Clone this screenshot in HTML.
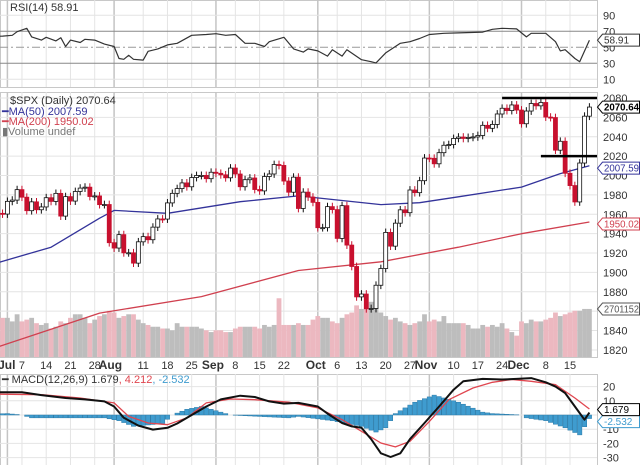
<!DOCTYPE html>
<html><head><meta charset="utf-8"><style>
html,body{margin:0;padding:0;background:#fff;}
svg{display:block;font-family:"Liberation Sans",sans-serif;}
</style></head><body>
<svg id="c" width="640" height="465" viewBox="0 0 640 465">
<defs><clipPath id="plot"><rect x="0" y="0" width="597" height="465"/></clipPath></defs>
<g id="grid"></g>
<g id="vol" clip-path="url(#plot)"></g>
<g id="lines" clip-path="url(#plot)"></g>
<g id="candles" clip-path="url(#plot)"></g>
<g id="labels"></g>
</svg>
<script>
// ---- data ----
const closes = [1949.98,1959.53,1957.22,1960.96,1960.23,
1973.32,1974.62,1985.44,1977.65,1963.71,1972.83,1964.68,1967.57,1977.10,1973.28,1981.57,1958.12,1978.22,1973.63,1983.53,1987.01,1987.98,1978.34,1978.91,1969.95,1970.07,1930.67,
1925.15,1938.99,1920.21,1920.24,1909.57,1931.59,1936.92,1933.75,1946.72,1955.18,1955.06,1971.74,1981.60,1986.51,1992.37,1988.40,1997.92,2000.02,2000.12,1996.74,2003.37,
2002.28,2000.72,1997.65,2007.71,2001.54,1988.44,1995.69,1997.45,1985.54,1984.13,1998.98,2001.57,2011.36,2010.40,1994.29,1982.77,1998.30,1965.99,1982.85,1977.80,1972.29,
1946.16,1946.17,1967.90,1964.82,1935.10,1968.89,1928.21,1906.13,1874.74,1877.70,1862.49,1862.76,1886.76,1904.01,1941.28,1927.11,1950.82,1964.58,1961.63,1985.05,1982.30,1994.65,2018.05,
2017.81,2012.10,2023.57,2031.21,2031.92,2038.26,2039.68,2038.25,2039.33,2039.82,2041.32,2051.80,2048.72,2052.75,2063.50,2069.41,2067.03,2072.83,2067.56,
2053.44,2066.55,2074.33,2071.92,2075.37,2060.31,2059.82,2026.14,2035.33,2002.33,1989.63,1972.74,2012.89,2061.23,2070.65];
const volumes = [2.2,2.1,2.0,2.3,2.2,
2.2,2.0,2.4,2.0,2.1,2.2,1.9,1.8,1.9,1.6,1.7,2.0,1.9,2.2,2.4,2.4,2.2,1.9,2.1,2.3,2.4,2.6,
2.5,2.2,2.3,2.4,2.4,2.1,1.9,1.8,1.7,1.7,1.6,1.6,1.5,1.9,1.7,1.7,1.7,1.7,1.6,1.5,1.4,
1.5,1.5,1.4,1.4,1.6,1.7,1.7,1.7,1.7,1.6,1.8,1.7,1.8,3.3,1.8,1.8,1.8,1.9,1.8,1.8,2.1,
2.3,2.2,2.2,2.0,1.9,2.2,2.4,2.5,2.9,2.7,3.0,3.1,2.8,2.5,2.3,2.1,2.2,2.0,1.9,1.8,1.9,2.0,2.4,
2.0,2.1,2.0,2.3,1.9,1.9,1.9,1.9,1.8,1.6,1.6,1.8,1.7,1.8,1.7,1.9,1.6,1.4,1.2,
2.0,1.9,2.1,2.0,2.0,2.1,2.2,2.5,2.3,2.4,2.5,2.6,2.6,2.7,2.7];
const ma50Idx = [3,14,24,27,38,53,65,82,90,98,111,119,125];
const ma50Val = [1910,1926,1956,1964,1961,1973,1979,1970,1972,1978,1988,2002,2010];
const ma200Idx = [3,24,45,65,82,98,111,125];
const ma200Val = [1823,1858,1875,1902,1911,1926,1940,1952];
const rsiIdx = [0,4,6,7,9,10,12,13,15,16,17,18,20,21,23,25,27,28,29,30,31,33,34,36,38,40,43,46,48,50,52,54,56,58,59,62,64,66,67,69,71,72,74,75,78,80,81,83,85,86,88,90,92,95,98,103,105,107,110,112,113,116,118,119,120,122,123,125];
const rsiVal = [63,64,65,69.5,73.7,63,59,62.5,58,62,51,59,56,60,59,54,51,36,35,40,35,34,45,48,53,55,65,66,67,65,66,55,55,51,57,62.5,48,44,48,45.5,39,47,39,47,34.5,32,30.5,43,51,55,57,61,66,67.5,68,69,72.5,73.7,73,63,67.5,67.5,57,45.5,47,36,32,58.9];
const macdIdx = [0,8,12,17,21,25,27,29,32,35,38,40,43,46,49,53,56,59,62,65,69,71,74,76,78,80,82,84,86,88,91,94,97,99,103,107,110,113,116,118,120,122,124,125];
const macdVal = [16,16,14,12,11,9.6,6,-2,-7.5,-10.3,-9,-6,0,6,11,13.6,12.7,9.6,8,8.5,6,1,-5.6,-8,-9,-17,-27,-29.6,-27,-17,-5.6,6,17.8,23.7,25.4,25,25.4,26,23,20,15.5,6,-3.3,1.679];
const sigIdx = [0,12,20,27,30,34,38,42,46,51,56,63,69,74,78,82,85,88,92,96,101,105,109,113,118,122,125];
const sigVal = [14.8,14.3,12,8.5,-1,-5.6,-6.8,-2,8.5,11.3,10.8,9,5,-3.3,-11.5,-19.7,-22.5,-18.5,-4.5,10.8,19,23,25,23.7,21.4,12,4.212];
const histIdx = [0,5,8,10,25,28,31,37,39,42,45,48,51,63,65,72,78,81,83,85,89,93,98,103,105,111,112,116,120,123,125];
const histVal = [0.5,1,0,-2,-2,-4,-8,-6,0,4,6,3,0,-2,-1,-4,-8,-12,-9,1,9,14,9,2,1,0,-2,-4,-9,-14,-2.5];
const priceTicks = [1820,1840,1860,1880,1900,1920,1940,1960,1980,2000,2020,2040,2060,2080];
const rsiTicks = [90,70,50,30,10];
const macdTicks = [20,10,-10,-20,-30];
const dateLabels = ["Jul","7","14","21","28","Aug","11","18","25","Sep","8","15","22","Oct","6","13","20","27","Nov","10","17","24","Dec","8","15"];
const dateIdx = [5,8,13,18,23,27,33,38,43,48,52,57,62,69,73,78,83,88,92,97,102,107,111,116,121];

// ---- scales ----
const NS='http://www.w3.org/2000/svg';
const X = i => 570 + (i-121)*4.85;
const PY = v => 98 + (2080-v)*0.969;
const RY = v => 47.3 - (v-50)*0.8;
const MY = v => 415 - v*1.42;
const VH = v => v*17.8;
const PB = 357;
function mk(parent,tag,attrs){const e=document.createElementNS(NS,tag);for(const k in attrs)e.setAttribute(k,attrs[k]);document.getElementById(parent).appendChild(e);return e;}
function txt(parent,x,y,s,attrs){const e=mk(parent,'text',Object.assign({x:x,y:y},attrs||{}));e.textContent=s;return e;}
function interp(idx,val,i){if(i<=idx[0])return val[0];for(let k=1;k<idx.length;k++){if(i<=idx[k]){const t=(i-idx[k-1])/(idx[k]-idx[k-1]);return val[k-1]+t*(val[k]-val[k-1]);}}return val[val.length-1];}

const panels=[[0,0,597,87,'rsi-panel'],[0,92,597,PB-92,'price-panel'],[0,374,597,91,'macd-panel']];
panels.forEach(p=>{const r=mk('grid','rect',{x:p[0]+0.5,y:p[1]+0.5,width:p[2],height:p[3],fill:'#fff',stroke:'#c8c8c8'});

});
dateIdx.forEach((d,k)=>{const month=isNaN(+dateLabels[k]);
panels.forEach(p=>{mk('grid','line',{x1:X(d),x2:X(d),y1:p[1],y2:p[1]+p[3],stroke:month?'#c4c4c4':'#e4e4e4','stroke-width':month?1.5:1});});
const t=txt('labels',X(d),369,dateLabels[k],{'font-size':month?12:11,'font-weight':month?'bold':'normal',fill:'#333','text-anchor':month?'end':'middle'});
if(month)t.setAttribute('x',X(d)+8);

});
priceTicks.forEach(v=>{mk('grid','line',{x1:0,x2:597,y1:PY(v),y2:PY(v),stroke:'#e4e4e4'});
const t=txt('labels',603,PY(v)+4,String(v),{'font-size':11,fill:'#333'});

});
rsiTicks.forEach(v=>{mk('grid','line',{x1:0,x2:597,y1:RY(v),y2:RY(v),stroke:(v==70||v==30)?'#888':(v==50?'#999':'#e4e4e4'),'stroke-dasharray':v==50?'8,3,2,3':'none'});
const t=txt('labels',603,RY(v)+4,String(v),{'font-size':11,fill:'#333'});

});
macdTicks.concat([0]).forEach(v=>{mk('grid','line',{x1:0,x2:597,y1:MY(v),y2:MY(v),stroke:'#e4e4e4'});
if(v!==0){const t=txt('labels',603,MY(v)+4,String(v),{'font-size':11,fill:'#333'});

}});

volumes.forEach((v,i)=>{const up=i==0||closes[i]>=closes[i-1];
const r=mk('vol','rect',{x:X(i)-2.4,y:PB-VH(v),width:4.8,height:VH(v),fill:up?'#bdbdbd':'#ecb8c0'});

});

function poly(g,idx,val,ys,color,w,name){let d='';idx.forEach((i,k)=>{d+=(k?'L':'M')+X(i).toFixed(1)+','+ys(val[k]).toFixed(1);});
const p=mk(g,'path',{d:d,fill:'none',stroke:color,'stroke-width':w,'stroke-linejoin':'round'});

}
poly('lines',ma200Idx,ma200Val,PY,'#d0404f',1.3,'ma200-line');
poly('lines',ma50Idx,ma50Val,PY,'#33339a',1.3,'ma50-line');
poly('lines',rsiIdx,rsiVal,RY,'#333',1.2,'rsi-line');

for(let i=0;i<closes.length;i++){const h=interp(histIdx,histVal,i);
const y0=MY(0),y1=MY(h);
const r=mk('lines','rect',{x:X(i)-2.2,y:Math.min(y0,y1),width:4.4,height:Math.abs(y1-y0),fill:'#3f9ccf',stroke:'#2a7aa8','stroke-width':0.5});

}
poly('lines',sigIdx,sigVal,MY,'#e0464f',1.3,'macd-signal-line');
poly('lines',macdIdx,macdVal,MY,'#111',2,'macd-line');

closes.forEach((c,i)=>{const o=i?closes[i-1]:c;const up=c>=o;
const hi=Math.max(o,c)+4,lo=Math.min(o,c)-4;
mk('candles','line',{x1:X(i),x2:X(i),y1:PY(hi),y2:PY(lo),stroke:up?'#111':'#c8102e','stroke-width':1});
const top=PY(Math.max(o,c)),bh=Math.max(1,Math.abs(PY(o)-PY(c)));
const r=mk('candles','rect',{x:X(i)-2,y:top,width:4,height:bh,fill:up?'#fff':'#c8102e',stroke:up?'#111':'#c8102e','stroke-width':0.8});

});
mk('candles','line',{x1:X(107),x2:597,y1:PY(2080),y2:PY(2080),stroke:'#000','stroke-width':2.5});
mk('candles','line',{x1:X(115),x2:597,y1:PY(2020),y2:PY(2020),stroke:'#000','stroke-width':2.5});

function box(y,s,color,name){mk('labels','path',{d:`M597.5,${y} l5,-6 h37 v12 h-37 z`,fill:'#fff',stroke:color,'stroke-width':1});
const a={'font-size':10,fill:color,'font-weight':name=='price-box'?'bold':'normal'};
if(s.length>=7){a.textLength=35;a.lengthAdjust='spacingAndGlyphs';}
const t=txt('labels',604,y+3.5,s,a);

}
box(PY(2070.64),'2070.64','#000','price-box');
box(PY(2007.59),'2007.59','#33339a','ma50-box');
box(PY(1950.02),'1950.02','#d0404f','ma200-box');
box(309,'2701152','#555','volume-box');
box(RY(58.91),'58.91','#333','rsi-box');
box(MY(-2.532)+3,'-2.532','#3f9ccf','hist-box');
box(MY(1.679)-3,'1.679','#000','macd-box');

function leg(x,y,s,color,name){const t=txt('labels',x,y,s,{'font-size':11,fill:color});

return t;}
leg(10,11,'RSI(14) 58.91','#333','rsi-legend');
leg(10,104,'$SPX (Daily) 2070.64','#333','price-legend');
leg(2,115,'━MA(50) 2007.59','#33339a','ma50-legend');
leg(2,125,'━MA(200) 1950.02','#d0404f','ma200-legend');
leg(2,135,'▮Volume undef','#777','volume-legend');
const m=leg(2,383,'━ MACD(12,26,9) 1.679','#333','macd-legend');
const s1=document.createElementNS(NS,'tspan');s1.setAttribute('fill','#e0464f');s1.textContent=', 4.212';m.appendChild(s1);
const s2=document.createElementNS(NS,'tspan');s2.setAttribute('fill','#3f9ccf');s2.textContent=', -2.532';m.appendChild(s2);
</script>
</body></html>
